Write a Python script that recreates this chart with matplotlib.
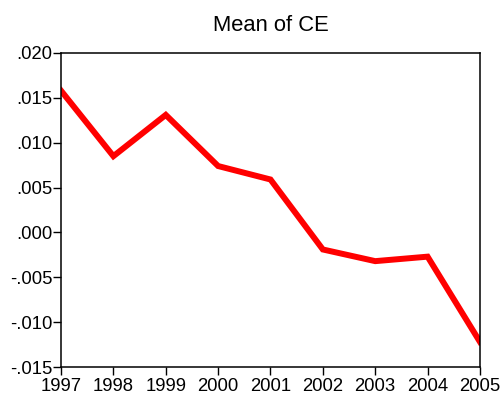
import matplotlib
matplotlib.use("Agg")
import matplotlib.pyplot as plt
from matplotlib.ticker import FuncFormatter, MultipleLocator

plt.rcParams['font.family'] = ['Liberation Sans', 'DejaVu Sans']

# mean of CE by year
years = [1997, 1998, 1999, 2000, 2001, 2002, 2003, 2004, 2005]
mean_ce = [0.0158, 0.0085, 0.0131, 0.0074, 0.0059, -0.0019, -0.0032, -0.0027, -0.0122]


def eviews_fmt(v, pos):
    s = f"{v:.3f}"
    if s == "-0.000":
        s = "0.000"
    return s.replace("0.", ".", 1)


fig = plt.figure(figsize=(5.01, 4.03), dpi=100)
ax = fig.add_axes([0.1218, 0.0893, 0.8362, 0.7792])

ax.plot(years, mean_ce, color='#ff0000', lw=4.3, solid_joinstyle='miter')

ax.set_xlim(1997, 2005)
ax.set_ylim(-0.015, 0.020)
ax.set_xticks(years)
ax.yaxis.set_major_locator(MultipleLocator(0.005))
ax.yaxis.set_major_formatter(FuncFormatter(eviews_fmt))

ax.tick_params(direction='out', length=5.5, width=1, labelsize=13.3,
               top=False, right=False, colors='black')
ax.tick_params(axis='x', pad=2.5)
ax.tick_params(axis='y', pad=0.5)
for sp in ax.spines.values():
    sp.set_linewidth(1.1)
    sp.set_color('black')

ax.set_title("Mean of CE", fontsize=15.8, pad=16)

fig.savefig("out.png", dpi=100)
